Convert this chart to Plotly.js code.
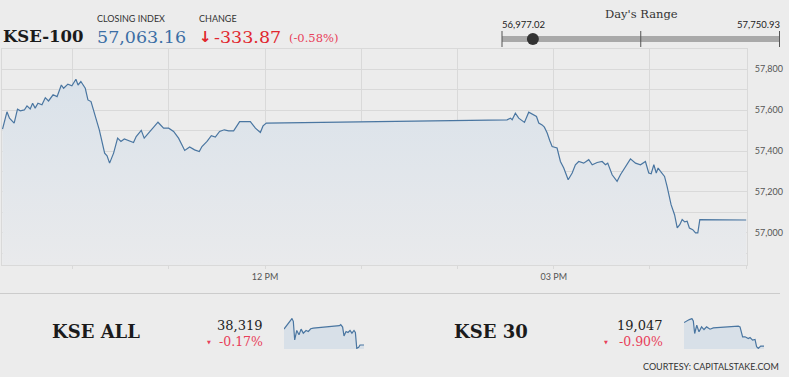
<!DOCTYPE html>
<html><head><meta charset="utf-8">
<script src="https://cdn.plot.ly/plotly-3.0.1.min.js"></script>
<style>html,body{margin:0;padding:0;background:#ececec;overflow:hidden}#chart{width:789px;height:377px}</style>
</head><body><div id="chart"></div>
<script>
// ---------- DATA ----------
const kse100Times = ["09:16:20","09:19:05","09:20:40","09:23:35","09:25:40","09:27:25","09:29:55","09:31:35","09:33:35","09:35:05",
"09:36:40","09:38:25","09:40:55","09:43:00","09:45:00","09:47:50","09:50:20","09:53:00","09:54:25","09:57:05",
"09:59:35","10:02:05","10:03:25","10:05:10","10:07:55","10:09:35","10:11:30","10:14:10","10:16:40","10:20:00",
"10:21:30","10:23:05","10:25:35","10:28:05","10:30:10","10:32:15","10:34:55","10:38:00","10:39:40","10:42:50",
"10:44:40","10:47:25","10:50:30","10:53:15","10:56:45","10:59:55","11:03:00","11:06:05","11:09:55","11:13:00",
"11:16:05","11:19:00","11:20:40","11:23:50","11:26:30","11:29:00","11:31:40","11:34:35","11:37:20","11:40:25",
"11:44:10","11:47:40","11:50:50","11:54:00","11:57:05","11:58:45","12:00:50","14:30:55","14:33:00","14:34:05",
"14:36:05","14:38:10","14:41:45","14:44:25","14:47:10","14:49:15","14:50:40","14:52:45","14:54:10","14:55:55",
"14:57:30","14:59:00","15:02:05","15:04:10","15:06:15","15:09:00","15:11:30","15:13:30","15:15:35","15:18:40",
"15:21:50","15:24:00","15:27:05","15:30:10","15:32:15","15:33:40","15:36:25","15:39:30","15:41:35","15:44:40",
"15:47:50","15:51:00","15:54:05","15:57:10","15:59:15","16:00:45","16:02:25","16:03:55","16:05:05","16:06:35",
"16:09:05","16:10:40","16:13:10","16:15:20","16:17:00","16:18:35","16:20:05","16:21:40","16:23:10","16:24:35",
"16:26:40","16:28:25","16:29:50","16:31:05","17:00:00"];
const kse100Values = [57507,57592,57561,57537,57605,57597,57601,57621,57606,57634,
57610,57634,57626,57661,57645,57675,57666,57723,57707,57727,
57719,57751,57723,57740,57707,57650,57642,57569,57504,57390,
57377,57341,57390,57463,57447,57459,57452,57442,57471,57501,
57463,57488,57517,57541,57512,57512,57496,57463,57403,57420,
57406,57398,57422,57447,57475,57468,57496,57504,57499,57499,
57544,57544,57544,57512,57491,57523,57537,57553,57561,57553,
57585,57561,57540,57590,57580,57569,57537,57528,57517,57488,
57452,57422,57415,57349,57317,57260,57293,57333,57349,57341,
57358,57333,57344,57349,57333,57341,57284,57252,57284,57325,
57362,57341,57333,57349,57293,57289,57333,57293,57317,57301,
57276,57227,57138,57089,57024,57040,57065,57054,57057,57024,
57016,57000,57000,57065,57063];

const kseAllTimes = ["09:16","09:28","09:47","10:02","10:10","10:18","10:30","10:43","10:55","11:08","11:24","11:37","11:51","12:06",
"14:37","14:45","14:56","15:04","15:16","15:27","15:39","15:50","16:02","16:10","16:18","16:29","16:37","17:00"];
const kseAllValues = [38507,38539,38579,38631,38599,38379,38491,38439,38507,38459,38491,38479,38511,38519,
38547,38559,38531,38427,38479,38467,38491,38459,38491,38467,38279,38291,38319,38319];

const kse30Times = ["09:16","09:31","09:47","10:02","10:10","10:18","10:30","10:43","10:58","11:12","11:27","11:47","12:06",
"14:31","14:41","14:56","15:10","15:29","15:39","15:54","16:08","16:17","16:27","16:41","17:00"];
const kse30Values = [19189,19199,19207,19213,19199,19123,19173,19133,19163,19147,19163,19149,19157,
19167,19163,19103,19103,19093,19099,19083,19087,19043,19033,19047,19047];

const indexName = "KSE-100";
const closingIndex = 57063.16;
const changeValue = -333.87;
const changePct = -0.58;
const dayLow = 56977.02;
const dayHigh = 57750.93;

const subIndexNames = ["KSE ALL", "KSE 30"];
const subIndexClose = [38319, 19047];
const subIndexPct = [-0.17, -0.90];

const xTickTimes = ["10:00","11:00","12:00","13:00","14:00","15:00","16:00","17:00"];
const xTickText = ["","","12 PM","","","03 PM","",""];
const yTickVals = [56900,57000,57100,57200,57300,57400,57500,57600,57700,57800,57900];
const yTickText = ["","57,000","","57,200","","57,400","","57,600","","57,800",""];

// ---------- LAYOUT HELPERS ----------
const DAY = "2024-01-01 ";
const W = 789, H = 377, ML = 2, MR = 5, PW = W - ML - MR;
const px = x => (x - ML) / PW;
const py = y => (H - y) / H;
const hdom = (a, b) => [px(a), px(b)];
const vdom = (top, bottom) => [py(bottom), py(top)];
const fmt2 = v => v.toLocaleString("en-US", {minimumFractionDigits: 2, maximumFractionDigits: 2});
const fmt0 = v => v.toLocaleString("en-US", {maximumFractionDigits: 0});

const SANS = "Lato, 'Open Sans', sans-serif";
const SERIF = "'DejaVu Serif', 'Liberation Serif', serif";
const RED = "#e1272e";
const PINK = "#e8405a";
const LINE = "#4a76a1";
const GRID = "#d9d9d9";

const ext = arr => [Math.min(...arr), Math.max(...arr)];
const [aMin, aMax] = ext(kseAllValues);
const [bMin, bMax] = ext(kse30Values);

const rs = (dayHigh - dayLow) / 277.5;

const traces = [
  {x: kse100Times.map(t => DAY + t), y: kse100Values, xaxis: "x", yaxis: "y", type: "scatter", mode: "lines",
   line: {color: LINE, width: 1.2}, fill: "tozeroy",
   fillgradient: {type: "vertical", start: 56843, stop: 57751, colorscale: [[0, "#e9eaec"], [1, "#dae2ea"]]}},
  {x: kseAllTimes.map(t => DAY + t), y: kseAllValues, xaxis: "x2", yaxis: "y2", type: "scatter", mode: "lines",
   line: {color: LINE, width: 1.2}, fill: "tozeroy", fillcolor: "#d8e0e8"},
  {x: kse30Times.map(t => DAY + t), y: kse30Values, xaxis: "x3", yaxis: "y3", type: "scatter", mode: "lines",
   line: {color: LINE, width: 1.2}, fill: "tozeroy", fillcolor: "#d8e0e8"},
  {x: [dayLow, dayHigh], y: [0, 0], xaxis: "x4", yaxis: "y4", type: "scatter", mode: "lines",
   line: {color: "#a9a9a9", width: 6}},
  {x: [closingIndex], y: [0], xaxis: "x4", yaxis: "y4", type: "scatter", mode: "markers",
   marker: {color: "#333333", size: 12}}
];

const tickFont = {family: SANS, size: 9, color: "#555555"};

function ann(text, x, y, xanchor, font) {
  return {text: text, x: px(x), y: py(y), xref: "paper", yref: "paper", xanchor: xanchor, yanchor: "middle",
          showarrow: false, borderpad: 0, font: font};
}

const annotations = [
  ann("<b>" + indexName + "</b>", 2, 36.5, "left", {family: SERIF, size: 16.5, color: "#1b1b1b"}),
  ann("CLOSING INDEX", 96, 18.5, "left", {family: SANS, size: 9, color: "#333"}),
  ann(fmt2(closingIndex), 96, 37, "left", {family: SERIF, size: 17.5, color: "#3b6ea5"}),
  ann("CHANGE", 198, 18.5, "left", {family: SANS, size: 9, color: "#333"}),
  ann("<b>↓</b>", 198, 37, "left", {family: "'DejaVu Sans', sans-serif", size: 15, color: RED}),
  ann(fmt2(changeValue), 213, 37, "left", {family: SERIF, size: 17.5, color: RED}),
  ann("(" + changePct.toFixed(2) + "%)", 288, 38, "left", {family: SERIF, size: 11.5, color: PINK}),
  ann("Day's Range", 641, 14, "center", {family: SERIF, size: 11.5, color: "#333"}),
  ann(fmt2(dayLow), 501, 24, "left", {family: SANS, size: 9.5, color: "#222"}),
  ann(fmt2(dayHigh), 781, 24, "right", {family: SANS, size: 9.5, color: "#222"}),
  ann("COURTESY: CAPITALSTAKE.COM", 780, 366.5, "right", {family: SANS, size: 9, color: "#333"})
];
const subX = [{name: 51, num: 264, tri: 209}, {name: 453, num: 664, tri: 606}];
subIndexNames.forEach((n, i) => {
  annotations.push(ann("<b>" + n + "</b>", subX[i].name, 331.5, "left", {family: SERIF, size: 18, color: "#1b1b1b"}));
  annotations.push(ann(fmt0(subIndexClose[i]), subX[i].num, 325, "right", {family: SERIF, size: 13, color: "#222"}));
  annotations.push(ann(subIndexPct[i].toFixed(2) + "%", subX[i].num, 341.5, "right", {family: SERIF, size: 12.5, color: PINK}));
  annotations.push(ann("▼", subX[i].tri, 342, "center", {family: "'DejaVu Sans', sans-serif", size: 5, color: PINK}));
});

const shapes = [dayLow, (dayLow + dayHigh) / 2, dayHigh].map(v => ({
  type: "line", xref: "x4", yref: "y4", x0: v, x1: v, y0: -1, y1: 1, line: {color: "#555555", width: 1}
}));
shapes.push({type: "line", xref: "paper", yref: "paper", x0: px(0), x1: px(780), y0: py(293.5), y1: py(293.5),
             line: {color: "#cccccc", width: 1}});

const layout = {
  width: W, height: H,
  margin: {l: ML, r: MR, t: 0, b: 0},
  paper_bgcolor: "#ececec", plot_bgcolor: "rgba(0,0,0,0)",
  showlegend: false, hovermode: false,
  xaxis: {type: "date", domain: hdom(2, 747), anchor: "y", range: [DAY + "09:16:00", DAY + "17:00:30"],
          tickvals: xTickTimes.map(t => DAY + t), ticktext: xTickText, tickmode: "array",
          showgrid: true, gridcolor: GRID, gridwidth: 1, zeroline: false,
          showline: true, mirror: true, linecolor: GRID, linewidth: 1,
          ticks: "outside", ticklen: 3, tickcolor: GRID, tickfont: tickFont, fixedrange: true},
  yaxis: {domain: vdom(48.8, 265), anchor: "x", side: "right", range: [56843, 57900],
          tickvals: yTickVals, ticktext: yTickText, tickmode: "array",
          showgrid: true, gridcolor: GRID, gridwidth: 1, zeroline: false,
          showline: true, mirror: true, linecolor: GRID, linewidth: 1,
          ticks: "", ticklabelstandoff: 5, tickfont: tickFont, fixedrange: true},
  xaxis2: {type: "date", domain: hdom(284, 364), anchor: "y2", range: [DAY + "09:16", DAY + "17:00"], visible: false},
  yaxis2: {domain: vdom(318, 349), anchor: "x2", range: [aMin - (aMax - aMin) * 0.02, aMax + (aMax - aMin) * 0.02], visible: false},
  xaxis3: {type: "date", domain: hdom(684, 764), anchor: "y3", range: [DAY + "09:16", DAY + "17:00"], visible: false},
  yaxis3: {domain: vdom(318, 349), anchor: "x3", range: [bMin - (bMax - bMin) * 0.02, bMax + (bMax - bMin) * 0.02], visible: false},
  xaxis4: {domain: hdom(500, 782), anchor: "y4", range: [dayLow - 2 * rs, dayHigh + 2.5 * rs], visible: false},
  yaxis4: {domain: vdom(31, 47), anchor: "x4", range: [-1, 1], visible: false},
  annotations: annotations,
  shapes: shapes
};

Plotly.newPlot("chart", traces, layout, {staticPlot: true, displayModeBar: false});
</script></body></html>
